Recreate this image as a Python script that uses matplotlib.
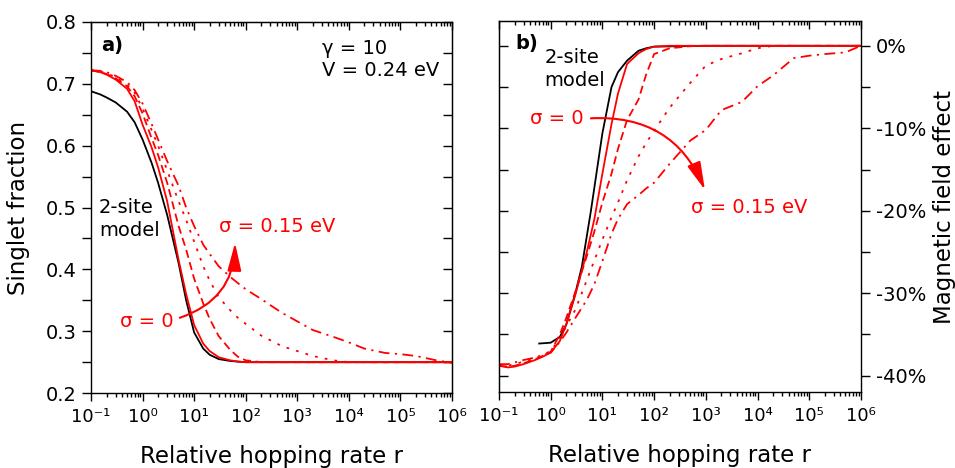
import numpy as np
import matplotlib
matplotlib.use("Agg")
import matplotlib.pyplot as plt
from matplotlib.ticker import MultipleLocator, LogLocator, NullFormatter, FuncFormatter

# relative hopping rate r (shared x values)
r = [0.1, 0.15, 0.2, 0.3, 0.5, 0.7, 1, 1.5, 2, 3, 5, 7, 10, 15, 20, 30, 50, 70,
     100, 200, 500, 1e3, 2e3, 5e3, 1e4, 2e4, 5e4, 1e5, 2e5, 5e5, 1e6]

# panel a) singlet fraction
sf_2site = [0.688, 0.683, 0.678, 0.670, 0.655, 0.638, 0.610, 0.572, 0.540, 0.488,
            0.410, 0.350, 0.298, 0.272, 0.262, 0.255, 0.252, 0.251, 0.250, 0.250,
            0.250, 0.250, 0.250, 0.250, 0.250, 0.250, 0.250, 0.250, 0.250, 0.250, 0.250]
sf_s0 = [0.722, 0.719, 0.715, 0.707, 0.692, 0.672, 0.634, 0.597, 0.565, 0.510,
         0.415, 0.360, 0.310, 0.280, 0.268, 0.258, 0.253, 0.251, 0.250, 0.250,
         0.250, 0.250, 0.250, 0.250, 0.250, 0.250, 0.250, 0.250, 0.250, 0.250, 0.250]
sf_s1 = [0.722, 0.719, 0.716, 0.709, 0.696, 0.680, 0.652, 0.612, 0.585, 0.540,
         0.470, 0.432, 0.385, 0.345, 0.320, 0.292, 0.270, 0.259, 0.253, 0.250,
         0.250, 0.250, 0.250, 0.250, 0.250, 0.250, 0.250, 0.250, 0.250, 0.250, 0.250]
sf_s2 = [0.722, 0.720, 0.717, 0.711, 0.699, 0.686, 0.660, 0.625, 0.600, 0.560,
         0.510, 0.480, 0.445, 0.405, 0.382, 0.355, 0.334, 0.322, 0.312, 0.293,
         0.276, 0.268, 0.260, 0.253, 0.250, 0.250, 0.250, 0.250, 0.250, 0.250, 0.250]
sf_s3 = [0.722, 0.721, 0.719, 0.713, 0.703, 0.690, 0.668, 0.635, 0.610, 0.575,
         0.535, 0.500, 0.470, 0.440, 0.425, 0.405, 0.388, 0.378, 0.368, 0.352,
         0.330, 0.316, 0.302, 0.291, 0.282, 0.272, 0.265, 0.263, 0.260, 0.253, 0.249]

# panel b) magnetic field effect (%)
r_2site = [0.6, 1, 1.5, 2, 3, 4, 6, 10, 15, 20, 30, 50, 70, 100, 1e3, 1e6]
mfe_2site = [-36.1, -36.0, -35.3, -33.8, -30.0, -26.8, -20.0, -10.6, -5.0, -3.2,
             -1.8, -0.6, -0.3, -0.1, 0, 0]
mfe_s0 = [-38.8, -39.0, -38.9, -38.6, -38.1, -37.7, -37.2, -35.8, -33.8, -30.2,
          -25.0, -21.0, -15.5, -9.5, -5.8, -2.2, -0.9, -0.4, -0.1, 0,
          0, 0, 0, 0, 0, 0, 0, 0, 0, 0, 0]
mfe_s1 = [-38.8, -38.9, -38.8, -38.5, -38.0, -37.6, -37.1, -35.0, -33.0, -29.8,
          -25.5, -22.5, -19.0, -15.5, -12.5, -9.0, -6.5, -3.5, -1.0, -0.3,
          -0.05, 0, 0, 0, 0, 0, 0, 0, 0, 0, 0]
mfe_s2 = [-38.8, -38.8, -38.6, -38.3, -37.9, -37.5, -37.0, -35.5, -34.0, -32.0,
          -28.4, -26.0, -23.5, -20.8, -19.0, -16.3, -13.4, -11.8, -10.3, -7.5,
          -4.5, -2.4, -1.6, -0.9, -0.3, 0, 0, 0, 0, 0, 0]
mfe_s3 = [-38.6, -38.6, -38.4, -38.1, -37.8, -37.5, -37.2, -35.9, -34.8, -33.0,
          -30.8, -28.9, -26.1, -22.8, -21.0, -19.2, -18.1, -17.3, -16.6, -14.3,
          -11.5, -10.2, -7.8, -6.8, -4.9, -3.6, -1.5, -1.2, -1.0, -0.8, 0]

RED = "#ff0000"
LW = 1.3
styles = ["-", (0, (4.5, 2.5)), (0, (1.5, 4)), (0, (6, 3, 1.2, 3))]
SUP = str.maketrans("-0123456789", "⁻⁰¹²³⁴⁵⁶⁷⁸⁹")

plt.rcParams["font.family"] = "DejaVu Sans"

fig = plt.figure(figsize=(9.55, 4.68), dpi=100)
axa = fig.add_axes([0.0953, 0.160, 0.378, 0.793])
axb = fig.add_axes([0.5225, 0.162, 0.379, 0.793])

ident = (lambda v: v, lambda v: v)


def pow_label(v, p):
    return "10" + str(int(round(np.log10(v)))).translate(SUP)


def style_x(ax):
    ax.set_xscale("log")
    ax.set_xlim(0.1, 1e6)
    ax.xaxis.set_major_locator(LogLocator(base=10, numticks=20))
    ax.xaxis.set_minor_locator(LogLocator(base=10, subs=np.arange(2, 10), numticks=20))
    ax.xaxis.set_major_formatter(FuncFormatter(pow_label))
    ax.xaxis.set_minor_formatter(NullFormatter())
    ax.tick_params(axis="x", which="major", direction="out", length=6, width=1,
                   labelsize=13, pad=5, top=False)
    ax.tick_params(axis="x", which="minor", direction="out", length=3, width=1, top=False)
    top = ax.secondary_xaxis("top", functions=ident)
    top.xaxis.set_major_locator(LogLocator(base=10, numticks=20))
    top.xaxis.set_minor_locator(LogLocator(base=10, subs=np.arange(2, 10), numticks=20))
    top.tick_params(axis="x", which="major", direction="in", length=6, width=1, labeltop=False)
    top.tick_params(axis="x", which="minor", direction="in", length=3, width=1, labeltop=False)
    for s in ax.spines.values():
        s.set_linewidth(1)
    ax.set_xlabel("Relative hopping rate r", fontsize=16.5)
    ax.xaxis.set_label_coords(0.5, -0.14)


# ---- panel a
axa.plot(r, sf_2site, color="black", lw=LW)
for vals, ls in zip([sf_s0, sf_s1, sf_s2, sf_s3], styles):
    axa.plot(r, vals, color=RED, lw=LW, ls=ls)
style_x(axa)
axa.set_ylim(0.2, 0.8)
axa.yaxis.set_major_locator(MultipleLocator(0.1))
axa.yaxis.set_minor_locator(MultipleLocator(0.05))
axa.yaxis.set_major_formatter(FuncFormatter(lambda v, p: f"{v:.1f}"))
axa.tick_params(axis="y", which="both", direction="out", length=6.5, width=1,
                labelsize=14, pad=4, right=False)
ra = axa.secondary_yaxis("right", functions=ident)
ra.yaxis.set_major_locator(MultipleLocator(0.1))
ra.yaxis.set_minor_locator(MultipleLocator(0.05))
ra.tick_params(axis="y", which="both", direction="in", length=6.5, width=1, labelright=False)
axa.set_ylabel("Singlet fraction", fontsize=16.5)
axa.yaxis.set_label_coords(-0.168, 0.5)

axa.text(0.028, 0.938, "a)", transform=axa.transAxes, fontsize=14,
         fontweight="bold", va="center")
axa.text(0.64, 0.90, "γ = 10\nV = 0.24 eV", transform=axa.transAxes, fontsize=14,
         va="center", ha="left", linespacing=1.2)
axa.text(0.022, 0.47, "2-site\nmodel", transform=axa.transAxes, fontsize=14,
         va="center", ha="left", linespacing=1.25)
axa.text(0.355, 0.45, "σ = 0.15 eV", transform=axa.transAxes, fontsize=14,
         color=RED, va="center", ha="left")
axa.text(0.08, 0.194, "σ = 0", transform=axa.transAxes, fontsize=14,
         color=RED, va="center", ha="left")
axa.annotate("", xy=(0.399, 0.405), xytext=(0.246, 0.203),
             xycoords="axes fraction", textcoords="axes fraction",
             arrowprops=dict(arrowstyle="-|>,head_length=1.7,head_width=0.42",
                             mutation_scale=10, connectionstyle="arc3,rad=0.35",
                             color=RED, lw=1.5, shrinkA=0, shrinkB=0))

# ---- panel b
axb.plot(r_2site, mfe_2site, color="black", lw=LW)
for vals, ls in zip([mfe_s0, mfe_s1, mfe_s2, mfe_s3], styles):
    axb.plot(r, vals, color=RED, lw=LW, ls=ls)
style_x(axb)
axb.set_ylim(-42, 3)
axb.yaxis.tick_right()
axb.yaxis.set_label_position("right")
axb.yaxis.set_major_locator(MultipleLocator(10))
axb.yaxis.set_minor_locator(MultipleLocator(5))
axb.yaxis.set_major_formatter(FuncFormatter(lambda v, p: f"{v:.0f}%"))
axb.tick_params(axis="y", which="both", direction="out", length=6.5, width=1,
                labelsize=14, pad=4, left=False, labelleft=False)
lb = axb.secondary_yaxis("left", functions=ident)
lb.yaxis.set_major_locator(MultipleLocator(10))
lb.yaxis.set_minor_locator(MultipleLocator(5))
lb.tick_params(axis="y", which="both", direction="in", length=6.5, width=1, labelleft=False)
axb.set_ylabel("Magnetic field effect", fontsize=16.5)
axb.yaxis.set_label_coords(1.199, 0.5)

axb.text(0.044, 0.94, "b)", transform=axb.transAxes, fontsize=14,
         fontweight="bold", va="center")
axb.text(0.125, 0.87, "2-site\nmodel", transform=axb.transAxes, fontsize=14,
         va="center", ha="left", linespacing=1.25)
axb.text(0.085, 0.738, "σ = 0", transform=axb.transAxes, fontsize=14,
         color=RED, va="center", ha="left")
axb.text(0.53, 0.498, "σ = 0.15 eV", transform=axb.transAxes, fontsize=14,
         color=RED, va="center", ha="left")
axb.annotate("", xy=(0.569, 0.545), xytext=(0.254, 0.738),
             xycoords="axes fraction", textcoords="axes fraction",
             arrowprops=dict(arrowstyle="-|>,head_length=1.7,head_width=0.42",
                             mutation_scale=10, connectionstyle="arc3,rad=-0.35",
                             color=RED, lw=1.5, shrinkA=0, shrinkB=0))

fig.savefig("out.png", dpi=100)
